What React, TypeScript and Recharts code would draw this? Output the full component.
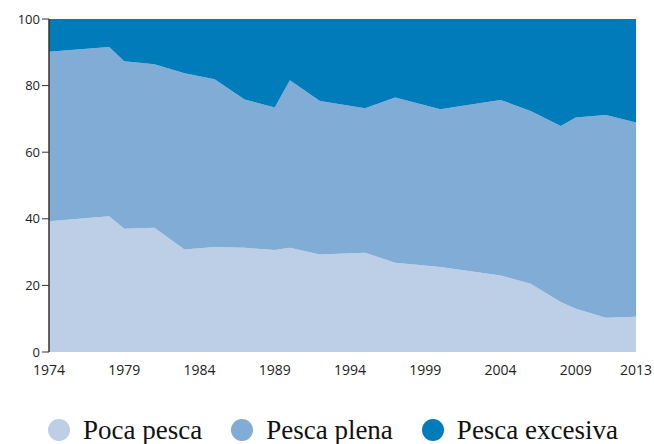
import React from "react";
import { AreaChart, Area, XAxis, YAxis, Legend } from "recharts";

const years = [1974, 1978, 1979, 1981, 1983, 1985, 1987, 1989, 1990, 1992, 1995, 1997, 2000, 2004, 2006, 2008, 2009, 2011, 2013];
const pocaPesca = [39.3, 40.8, 37.0, 37.3, 30.8, 31.5, 31.3, 30.6, 31.3, 29.3, 29.8, 26.8, 25.5, 23.0, 20.5, 15.0, 13.0, 10.3, 10.6];
const pescaPlena = [50.9, 50.8, 50.3, 49.1, 52.9, 50.4, 44.5, 42.8, 50.3, 46.1, 43.4, 49.6, 47.4, 52.7, 51.9, 52.9, 57.4, 60.9, 58.3];
const pescaExcesiva = [9.8, 8.4, 12.7, 13.6, 16.3, 18.1, 24.2, 26.6, 18.4, 24.6, 26.8, 23.6, 27.1, 24.3, 27.6, 32.1, 29.6, 28.8, 31.1];

const xTicks = [1974, 1979, 1984, 1989, 1994, 1999, 2004, 2009, 2013];
const yTicks = [0, 20, 40, 60, 80, 100];

const seriesNames = ["Poca pesca", "Pesca plena", "Pesca excesiva"];
const seriesColors = ["#bccfe7", "#80acd6", "#007cba"];

const data = years.map((y, i) => ({
  year: y,
  poca: pocaPesca[i],
  plena: pescaPlena[i],
  excesiva: pescaExcesiva[i],
}));

const LegendContent = () => (
  <div
    style={{
      height: 40,
      display: "flex",
      justifyContent: "center",
      alignItems: "flex-end",
      gap: 29,
      paddingLeft: 30,
      boxSizing: "border-box",
      fontFamily: "'Liberation Serif', 'Times New Roman', serif",
      fontSize: 27,
      color: "#111",
    }}
  >
    {seriesNames.map((n, i) => (
      <div key={n} style={{ display: "flex", alignItems: "center", gap: 13, lineHeight: "28px" }}>
        <span
          style={{
            display: "inline-block",
            width: 22,
            height: 22,
            borderRadius: "50%",
            background: seriesColors[i],
          }}
        />
        <span>{n}</span>
      </div>
    ))}
  </div>
);

export default function App() {
  return (
    <div style={{ position: "absolute", left: 0, top: 0, background: "#fff" }}>
      <AreaChart
        width={654}
        height={444}
        data={data}
        margin={{ top: 19, right: 18, left: 0, bottom: 0 }}
      >
        <XAxis
          dataKey="year"
          type="number"
          domain={[1974, 2013]}
          ticks={xTicks}
          axisLine={false}
          tickLine={false}
          height={52}
          tick={{ fill: "#222", fontSize: 14, fontFamily: "'Open Sans', sans-serif" }}
          tickMargin={7}
        />
        <YAxis
          type="number"
          domain={[0, 100]}
          ticks={yTicks}
          width={49}
          axisLine={{ stroke: "#333", strokeWidth: 1.5 }}
          tickLine={{ stroke: "#333" }}
          tickSize={7}
          tick={{ fill: "#222", fontSize: 13, fontFamily: "'Open Sans', sans-serif" }}
        />
        <Area type="linear" dataKey="poca" stackId="1" name={seriesNames[0]} fill={seriesColors[0]} fillOpacity={1} stroke="none" isAnimationActive={false} />
        <Area type="linear" dataKey="plena" stackId="1" name={seriesNames[1]} fill={seriesColors[1]} fillOpacity={1} stroke="none" isAnimationActive={false} />
        <Area type="linear" dataKey="excesiva" stackId="1" name={seriesNames[2]} fill={seriesColors[2]} fillOpacity={1} stroke="none" isAnimationActive={false} />
        <Legend verticalAlign="bottom" content={<LegendContent />} />
      </AreaChart>
    </div>
  );
}
